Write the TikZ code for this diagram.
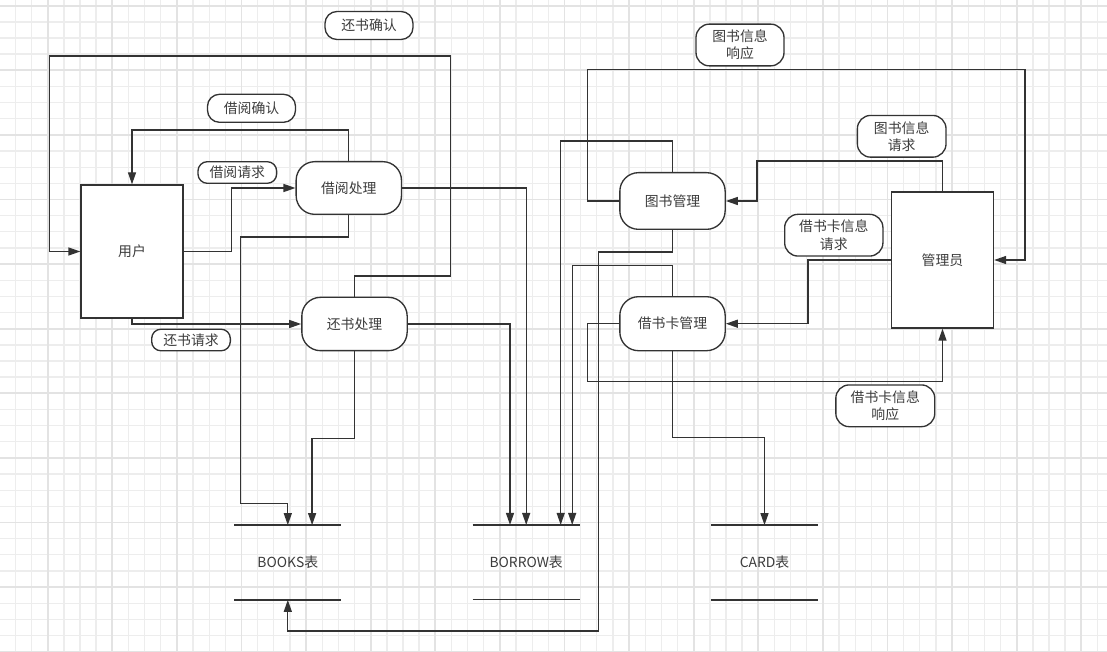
\documentclass[tikz,border=0pt]{standalone}
\usepackage{fontspec}
\setmainfont{Noto Sans CJK SC}
\usetikzlibrary{arrows.meta, calc}

\definecolor{linegray}{HTML}{333333}
\definecolor{textgray}{HTML}{3C3C3C}
\definecolor{gridminor}{HTML}{EDEDED}
\definecolor{gridmajor}{HTML}{E3E3E3}

\begin{document}
\begin{tikzpicture}[
    x=0.75pt, y=-0.75pt,
    every node/.style={font=\fontsize{10.4pt}{12.8pt}\selectfont, text=textgray},
    entity/.style={draw=linegray, line width=1pt, fill=white, minimum width=76.5pt, minimum height=99.75pt, inner sep=0pt},
    process/.style={draw=linegray, line width=1pt, fill=white, rounded corners=14pt, minimum width=79pt, minimum height=40pt, inner sep=0pt},
    msg/.style={draw=linegray, line width=1pt, fill=white, rounded corners=9pt, align=center, inner sep=0pt, minimum width=66pt, minimum height=21pt},
    msgsmall/.style={msg, rounded corners=7pt, minimum width=59pt, minimum height=16.2pt},
    msgtwo/.style={msg, rounded corners=10pt, minimum height=31.3pt},
    store/.style={minimum width=79.8pt, minimum height=55.7pt, inner sep=0pt},
    storeline/.style={draw=linegray, line width=1pt},
    flow/.style={draw=linegray, line width=1pt, -{Triangle[length=9pt, width=6pt]}},
    gridthin/.style={draw=gridminor, line width=1pt},
    gridthick/.style={draw=gridmajor, line width=1.3pt}
]
    \useasboundingbox (0,0) rectangle (1107,652);
    \fill[white] (0,0) rectangle (1107,652);

    % Grid
    \foreach \gx in {15.4,31.55,...,1107} \draw[gridthin] (\gx,0) -- (\gx,652);
    \foreach \gy in {5.7,21.85,...,652} \draw[gridthin] (0,\gy) -- (1107,\gy);
    \foreach \gx in {47.7,112.3,...,1107} \draw[gridthick] (\gx,0) -- (\gx,652);
    \foreach \gy in {5.7,70.3,...,652} \draw[gridthick] (0,\gy) -- (1107,\gy);

    % Nodes
    \node[entity] (yh) at (132,251.5) {用户};
    \node[entity, minimum height=102pt] (gly) at (942.5,260) {管理员};
    \node[process, minimum height=39.5pt] (jycl) at (348.8,188) {借阅处理};
    \node[process] (hscl) at (354.5,324) {还书处理};
    \node[process, minimum height=42.5pt] (tsgl) at (672.5,201) {图书管理};
    \node[process, minimum height=40.5pt] (jskgl) at (672.5,323.7) {借书卡管理};

    % Data stores
    \node[store] (books) at (287.8,562.5) {BOOKS表};
    \node[store] (borrow) at (526.2,562.3) {BORROW表};
    \node[store] (card) at (764.5,562.5) {CARD表};
    \foreach \s in {books, borrow, card}
        \draw[storeline] (\s.north west) -- (\s.north east) (\s.south west) -- (\s.south east);

    % Flow labels
    \node[msg] (hsqr) at (369,25.5) {还书确认};
    \node[msg] (jyqr) at (251.5,108.3) {借阅确认};
    \node[msgsmall] (jyqq) at (237.3,172.5) {借阅请求};
    \node[msgsmall] (hsqq) at (191,340) {还书请求};
    \node[msgtwo] (tsxy) at (740,45) {图书信息\\响应};
    \node[msgtwo, minimum width=66.5pt] (tsqq) at (901.7,136.3) {图书信息\\请求};
    \node[msgtwo, minimum width=73.7pt] (jkqq) at (833.8,235.2) {借书卡信息\\请求};
    \node[msgtwo, minimum width=74.2pt] (jkxy) at (885.3,405.8) {借书卡信息\\响应};

    % Edges (user side)
    \draw[flow] (yh.east) -- ++(48,0) |- (jycl.west);
    \draw[flow] (jycl.north) -- ++(0,-31) -| (yh.north);
    \draw[flow] (yh.south) |- (hscl.west);
    \draw[flow] (hscl.north) |- (450.7,276) |- (49.3,56) |- (yh.west);

    % Edges (to stores)
    \draw[flow] (jycl.south) -- ++(0,22) -| (240.7,503.3) -| (books.north);
    \draw[flow] (hscl.south) -- ++(0,87) -| ($(books.north)+(24.3,0)$);
    \draw[flow] (tsgl.south) -- ++(0,22) -| (598.3,631) -| (books.south);
    \draw[flow] (jycl.east) -| (borrow.north);
    \draw[flow] (hscl.east) -| ($(borrow.north)+(-16.2,0)$);
    \draw[flow] (tsgl.north) -- ++(0,-31) -| ($(borrow.north)+(34.5,0)$);
    \draw[flow] (jskgl.north) -- ++(0,-30.7) -| ($(borrow.north)+(46,0)$);
    \draw[flow] (jskgl.south) -- ++(0,86.3) -| (card.north);

    % Edges (admin side)
    \draw[flow] (gly.north) |- (757,161) |- (tsgl.east);
    \draw[flow] (tsgl.west) -- ++(-32,0) |- (1025,69.3) |- (gly.east);
    \draw[flow] (gly.west) -- ++(-83,0) |- (jskgl.east);
    \draw[flow] (jskgl.west) -- ++(-32,0) -- ++(0,58) -| (gly.south);
\end{tikzpicture}
\end{document}
